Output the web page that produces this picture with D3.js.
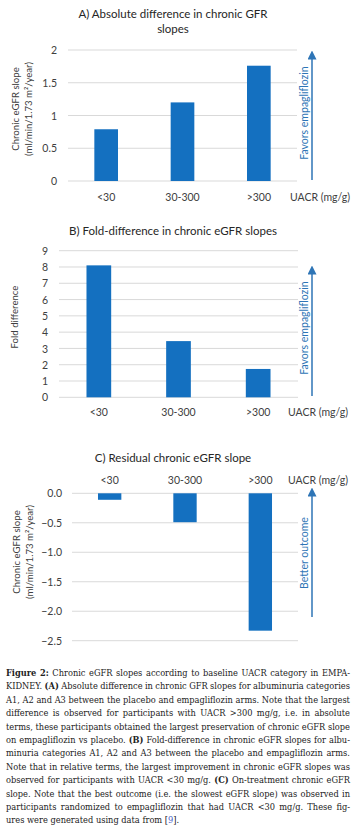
<!DOCTYPE html>
<html><head><meta charset="utf-8">
<script src="https://cdn.jsdelivr.net/npm/d3@7/dist/d3.min.js"></script>
<style>
html,body{margin:0;padding:0;background:#fff;}
svg{display:block;}
</style></head>
<body>
<svg id="c" width="355" height="832"></svg>
<script>
const categories = ["<30", "30-300", ">300"];
const absDiff = [0.79, 1.20, 1.76];
const foldDiff = [8.1, 3.45, 1.74];
const residual = [-0.11, -0.49, -2.33];
const ticksA = [0, 0.5, 1, 1.5, 2];
const ticksB = [0, 1, 2, 3, 4, 5, 6, 7, 8, 9];
const ticksC = [0, -0.5, -1.0, -1.5, -2.0, -2.5];
const titleA = ["A) Absolute difference in chronic GFR", "slopes"];
const titleB = "B) Fold-difference in chronic eGFR slopes";
const titleC = "C) Residual chronic eGFR slope";
const yLabelA = ["Chronic eGFR slope", "(ml/min/1.73 m²/year)"];
const yLabelB = "Fold difference";
const xAxisName = "UACR (mg/g)";
const arrowAB = "Favors empagliflozin";
const arrowC = "Better outcome";
const caption = [
  "**Figure 2:** Chronic eGFR slopes according to baseline UACR category in EMPA-",
  "KIDNEY. **(A)** Absolute difference in chronic GFR slopes for albuminuria categories",
  "A1, A2 and A3 between the placebo and empagliflozin arms. Note that the largest",
  "difference is observed for participants with UACR >300 mg/g, i.e. in absolute",
  "terms, these participants obtained the largest preservation of chronic eGFR slope",
  "on empagliflozin vs placebo. **(B)** Fold-difference in chronic eGFR slopes for albu-",
  "minuria categories A1, A2 and A3 between the placebo and empagliflozin arms.",
  "Note that in relative terms, the largest improvement in chronic eGFR slopes was",
  "observed for participants with UACR <30 mg/g. **(C)** On-treatment chronic eGFR",
  "slope. Note that the best outcome (i.e. the slowest eGFR slope) was observed in",
  "participants randomized to empagliflozin that had UACR <30 mg/g. These fig-",
  "ures were generated using data from [@9@]."
];

const svg = d3.select("#c");
const FONT = "Lato, 'Open Sans', sans-serif";
const TXT = "#404040";
const BAR = "#1470c0";
const ARW = "#2e75b6";
const GRID = "#d9d9d9";

svg.append("defs").append("marker")
  .attr("id","ah").attr("viewBox","0 0 10 10").attr("refX",5).attr("refY",5)
  .attr("markerWidth",6).attr("markerHeight",6).attr("orient","auto")
  .append("path").attr("d","M0,0 L10,5 L0,10 z").attr("fill",ARW);

function panel(o){
  const g = svg.append("g");
  const x = d3.scaleBand().domain(categories).range([o.x0, o.x1]).paddingInner(0.69).paddingOuter(0.345);
  const y = d3.scaleLinear().domain(o.domain).range(o.yrange);
  g.selectAll(".grid").data(o.ticks).join("line")
    .attr("x1", o.x0).attr("x2", o.x1)
    .attr("y1", d=>y(d)).attr("y2", d=>y(d))
    .attr("stroke", GRID).attr("stroke-width", 1);
  const ax = d3.axisLeft(y).tickValues(o.ticks).tickFormat(o.fmt).tickSize(0).tickPadding(0);
  const ag = g.append("g").attr("transform", `translate(${o.tickX},0)`).call(ax);
  ag.select(".domain").remove();
  ag.selectAll("text").attr("font-family", FONT).attr("font-size", 10.5).attr("fill", TXT).attr("dy","0.35em");
  g.selectAll(".bar").data(o.values).join("rect")
    .attr("x", (d,i)=>x(categories[i]))
    .attr("width", x.bandwidth())
    .attr("y", d=>Math.min(y(0), y(d)))
    .attr("height", d=>Math.abs(y(d)-y(0)))
    .attr("fill", BAR);
  const xa = d3.axisBottom(x).tickSize(0).tickPadding(0);
  const xg = g.append("g").attr("transform", `translate(0,${o.xLabY})`).call(xa);
  xg.select(".domain").remove();
  xg.selectAll("text").attr("font-family", FONT).attr("font-size", 10.5).attr("fill", TXT).attr("dy","0.35em");
  g.append("text").attr("x", o.uacrX).attr("y", o.xLabY).attr("dy","0.35em")
    .attr("font-family", FONT).attr("font-size", 10.5).attr("fill", TXT).text(xAxisName);
  o.title.forEach((t,i)=>{
    g.append("text").attr("x", 173).attr("y", o.titleY + i*15).attr("dy","0.35em")
      .attr("text-anchor","middle").attr("font-family", FONT).attr("font-size", 11.5).attr("fill","#262626").text(t);
  });
  o.ylab.forEach((t,i)=>{
    g.append("text").attr("transform", `translate(${o.ylabX[i]},${o.ylabY}) rotate(-90)`)
      .attr("dy","0.35em").attr("text-anchor","middle").attr("font-family", FONT).attr("font-size", 9.6)
      .attr("fill", TXT).text(t);
  });
  g.append("line").attr("x1", 312).attr("x2", 312).attr("y1", o.arrow[0]).attr("y2", o.arrow[1])
    .attr("stroke", ARW).attr("stroke-width", 1.5).attr("marker-end","url(#ah)");
  g.append("text").attr("transform", `translate(304,${o.arrowTextY}) rotate(-90)`)
    .attr("dy","0.35em").attr("text-anchor","middle").attr("font-family", FONT).attr("font-size", 10.5)
    .attr("fill", ARW).text(o.arrowText);
}

panel({x0:68, x1:297, domain:[0,2], yrange:[181,50], ticks:ticksA, fmt:d3.format(""), tickX:57,
  values:absDiff, xLabY:197, uacrX:290, title:titleA, titleY:14, ylab:yLabelA, ylabX:[16,29], ylabY:109,
  arrow:[180,55], arrowText:arrowAB, arrowTextY:113});
panel({x0:59, x1:298, domain:[0,9], yrange:[397.3,250.7], ticks:ticksB, fmt:d3.format(""), tickX:48,
  values:foldDiff, xLabY:412, uacrX:288, title:[titleB], titleY:230.7, ylab:[yLabelB], ylabX:[15], ylabY:317,
  arrow:[396,270], arrowText:arrowAB, arrowTextY:328});
panel({x0:72, x1:298, domain:[0,-2.5], yrange:[493.3,640.7], ticks:ticksC, fmt:d3.format(".1f"), tickX:62,
  values:residual, xLabY:480, uacrX:288, title:[titleC], titleY:458, ylab:yLabelA, ylabX:[17,30], ylabY:552,
  arrow:[617,492], arrowText:arrowC, arrowTextY:553});

// caption, justified
const CFONT = "'DejaVu Serif Condensed','DejaVu Serif',serif";
const cx0 = 6, cx1 = 350, cy0 = 676, lh = 13.4;
function tokenize(line){
  const out=[]; let bold=false;
  line.split(" ").forEach(w=>{
    const parts=[]; let buf=""; let i=0; let color=null;
    while(i<w.length){
      if(w.startsWith("**",i)){ if(buf) parts.push({t:buf,b:bold,c:color}); buf=""; bold=!bold; i+=2; continue; }
      if(w[i]==="@"){ if(buf) parts.push({t:buf,b:bold,c:color}); buf=""; color= color?null:"#4a63c8"; i++; continue; }
      buf+=w[i]; i++;
    }
    if(buf) parts.push({t:buf,b:bold,c:color});
    out.push(parts);
  });
  return out;
}
const cg = svg.append("g");
const meas = cg.append("text").attr("font-family", CFONT).attr("font-size", 10);
function wlen(parts){
  let s=0;
  parts.forEach(p=>{ meas.text(p.t).attr("font-weight", p.b?"bold":"normal"); s+=meas.node().getComputedTextLength(); });
  return s;
}
meas.attr("font-weight","normal");
const spaceW10 = (()=>{ meas.text("a a"); const a=meas.node().getComputedTextLength(); meas.text("aa"); return a-meas.node().getComputedTextLength(); })();
const tokLines = caption.map(tokenize);
const w10 = tokLines.map(ws=>ws.map(wlen));
const natural = w10.map((ws,i)=>d3.sum(ws) + spaceW10*0.9*(ws.length-1));
const fs = Math.min(10, 10*(cx1-cx0)/d3.max(natural.slice(0,-1)));
const k = fs/10;
tokLines.forEach((words, li)=>{
  const widths = w10[li].map(w=>w*k);
  const total = d3.sum(widths);
  const last = li===caption.length-1;
  const gap = last ? spaceW10*k : (cx1-cx0-total)/(words.length-1);
  let x = cx0;
  const t = cg.append("text").attr("y", cy0 + li*lh).attr("font-family", CFONT).attr("font-size", fs).attr("fill","#222");
  words.forEach((parts,wi)=>{
    let first=true;
    parts.forEach(p=>{
      const ts = t.append("tspan").text(p.t).attr("font-weight", p.b?"bold":"normal");
      if(p.c) ts.attr("fill", p.c);
      if(first){ ts.attr("x", x); first=false; }
    });
    x += widths[wi] + gap;
  });
});
meas.remove();
</script>
</body></html>
